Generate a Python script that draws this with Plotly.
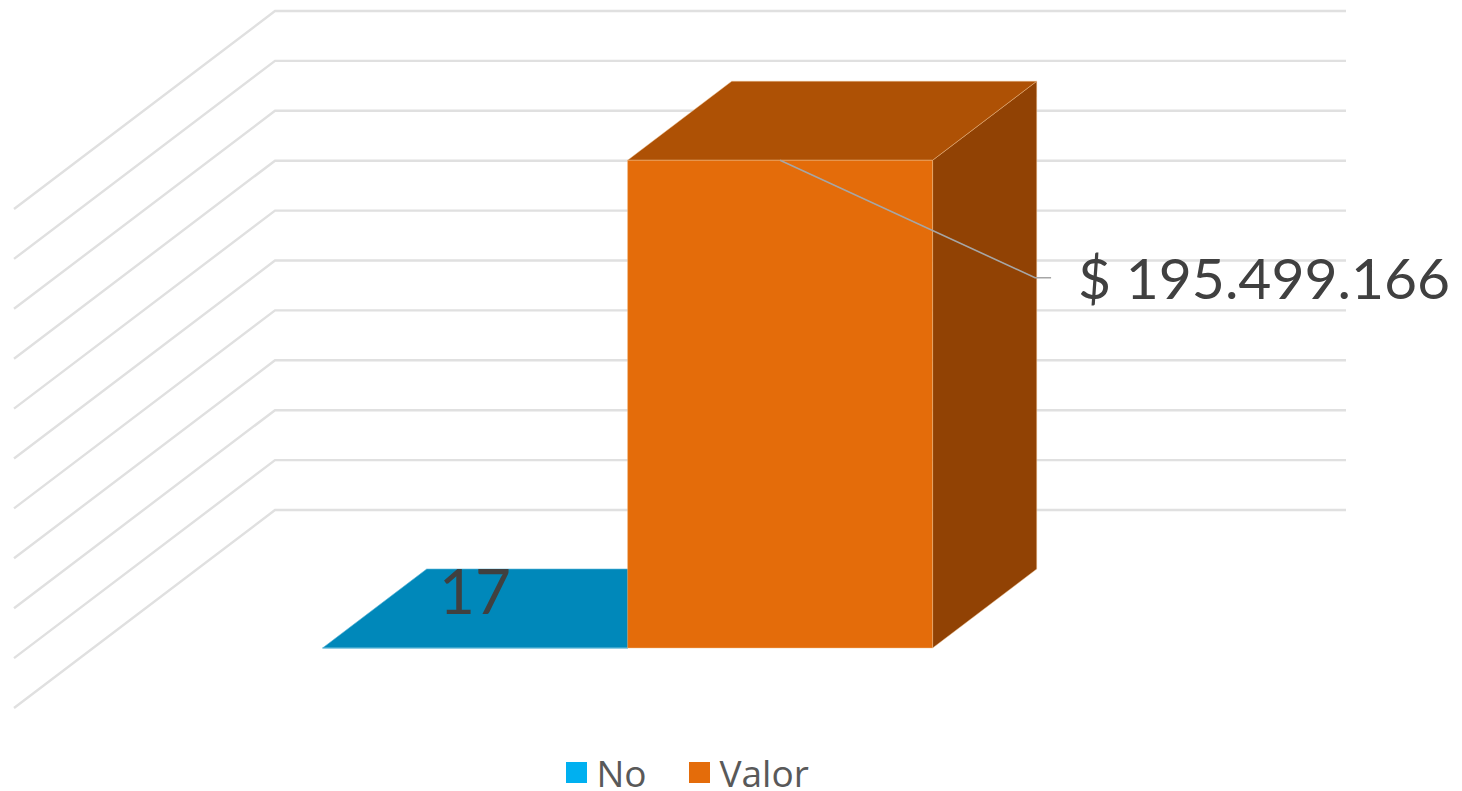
import plotly.graph_objects as go

# ---- data ----
series_names = ["No", "Valor"]
series_values = [17, 195499166]
series_labels = ["17", "$ 195.499.166"]
axis_ticks = [0, 20e6, 40e6, 60e6, 80e6, 100e6, 120e6, 140e6, 160e6, 180e6, 200e6]

# ---- styles ----
W, H = 1462, 791
FIG_H = 830                # canvas runs past the window so the tall legend stays where it belongs
GRID = "#E0E0E0"
LEGEND_COL = ["#00B0F0", "#E46C0A"]
TOP_COL = ["#0088BA", "#AE5105"]
SIDE_COL = ["#00678D", "#914204"]
FRONT_COL = ["#0088BA", "#E46C0A"]
EDGE_COL = ["rgba(90,180,215,0.6)", "rgba(240,190,140,0.45)"]
TEXT_COL = "#404040"
LABEL_FONT = "Lato"
LEGEND_FONT = "Open Sans"

# ---- oblique 3-D projection expressed in axis units ----
PX_PER_CAT = 1071.0
PX_PER_VAL = 49.9 / 20e6
X0_PX, Y0_PX = 14.0, 708.0
DX_DEPTH = 261.0 / PX_PER_CAT
DY_DEPTH = 198.0 / PX_PER_VAL
BAR_WIDTH = 305.0 / PX_PER_CAT
BAR_CENTER = 0.5 - 1.0 / PX_PER_CAT
BAR_D0, BAR_D1 = 0.303, 0.702


def proj(u, v, d=0.0):
    return u + d * DX_DEPTH, v + d * DY_DEPTH


def poly(points):
    xs, ys = zip(*[proj(*p) for p in points])
    return list(xs) + [xs[0]], list(ys) + [ys[0]]


fig = go.Figure()

# ---- gridlines: side wall + back wall ----
gx, gy = [], []
for t in axis_ticks:
    for p in ((0, t, 0), (0, t, 1), (1, t, 1)):
        x, y = proj(*p)
        gx.append(x)
        gy.append(y)
    gx.append(None)
    gy.append(None)
fig.add_trace(go.Scatter(x=gx, y=gy, mode="lines", line=dict(color=GRID, width=2.4),
                         hoverinfo="skip", showlegend=False))


def add_face(points, color, edge):
    xs, ys = poly(points)
    fig.add_trace(go.Scatter(x=xs, y=ys, mode="lines", fill="toself", fillcolor=color,
                             line=dict(color=edge, width=1), hoverinfo="skip",
                             showlegend=False))


# ---- bars ----
for i, val in enumerate(series_values):
    u0 = BAR_CENTER + (i - 1) * BAR_WIDTH
    u1 = u0 + BAR_WIDTH
    add_face([(u1, 0, BAR_D0), (u1, 0, BAR_D1), (u1, val, BAR_D1), (u1, val, BAR_D0)],
             SIDE_COL[i], EDGE_COL[i])
    add_face([(u0, val, BAR_D0), (u0, val, BAR_D1), (u1, val, BAR_D1), (u1, val, BAR_D0)],
             TOP_COL[i], EDGE_COL[i])
    add_face([(u0, 0, BAR_D0), (u1, 0, BAR_D0), (u1, val, BAR_D0), (u0, val, BAR_D0)],
             FRONT_COL[i], EDGE_COL[i])

# ---- leader line of the Valor label ----
val = series_values[1]
lx, ly = proj(BAR_CENTER + 0.5 * BAR_WIDTH, val, BAR_D0)
lead = [(lx, ly),
        (lx + 255 / PX_PER_CAT, ly - 117.5 / PX_PER_VAL),
        (lx + 271 / PX_PER_CAT, ly - 117.5 / PX_PER_VAL)]
fig.add_trace(go.Scatter(x=[p[0] for p in lead], y=[p[1] for p in lead], mode="lines",
                         line=dict(color="#A6A6A6", width=1.6), hoverinfo="skip",
                         showlegend=False))

# ---- data labels ----
lab0 = proj(BAR_CENTER - 0.5 * BAR_WIDTH, series_values[0], BAR_D0)
fig.add_trace(go.Scatter(x=[lab0[0] + 0 / PX_PER_CAT], y=[lab0[1] + 50 / PX_PER_VAL],
                         mode="text", text=[series_labels[0]], textposition="middle center",
                         textfont=dict(family=LABEL_FONT, size=62, color=TEXT_COL),
                         hoverinfo="skip", showlegend=False))
fig.add_trace(go.Scatter(x=[lead[2][0] + 27 / PX_PER_CAT], y=[lead[2][1] - 7 / PX_PER_VAL],
                         mode="text", text=[series_labels[1]], textposition="middle right",
                         textfont=dict(family=LABEL_FONT, size=57, color=TEXT_COL),
                         hoverinfo="skip", showlegend=False))

# ---- legend entries: one legend each, so the gap between them can follow the reference ----
legend_ids = ["legend", "legend2"]
for name, col, lid in zip(series_names, LEGEND_COL, legend_ids):
    fig.add_trace(go.Scatter(x=[None], y=[None], mode="markers", name=name, legend=lid,
                             marker=dict(symbol="square", size=16, color=col,
                                         line=dict(color=col, width=5))))

legend_style = dict(orientation="h", xanchor="left", y=(FIG_H - 773) / FIG_H, yanchor="middle",
                    font=dict(family=LEGEND_FONT, size=37, color="#595959"),
                    bgcolor="rgba(0,0,0,0)", itemclick=False, itemdoubleclick=False)

fig.update_layout(
    width=W, height=FIG_H,
    margin=dict(l=0, r=0, t=0, b=0),
    paper_bgcolor="white", plot_bgcolor="white",
    xaxis=dict(range=[-X0_PX / PX_PER_CAT, (W - X0_PX) / PX_PER_CAT], visible=False, fixedrange=True),
    yaxis=dict(range=[-(FIG_H - Y0_PX) / PX_PER_VAL, Y0_PX / PX_PER_VAL], visible=False, fixedrange=True),
    legend=dict(x=556.5 / W, **legend_style),
    legend2=dict(x=679.5 / W, **legend_style),
    hovermode=False,
)

fig.write_html("out.html", config=dict(displayModeBar=False),
               post_script="document.documentElement.style.overflow='hidden';document.body.style.margin='0';document.body.style.overflow='hidden';")
